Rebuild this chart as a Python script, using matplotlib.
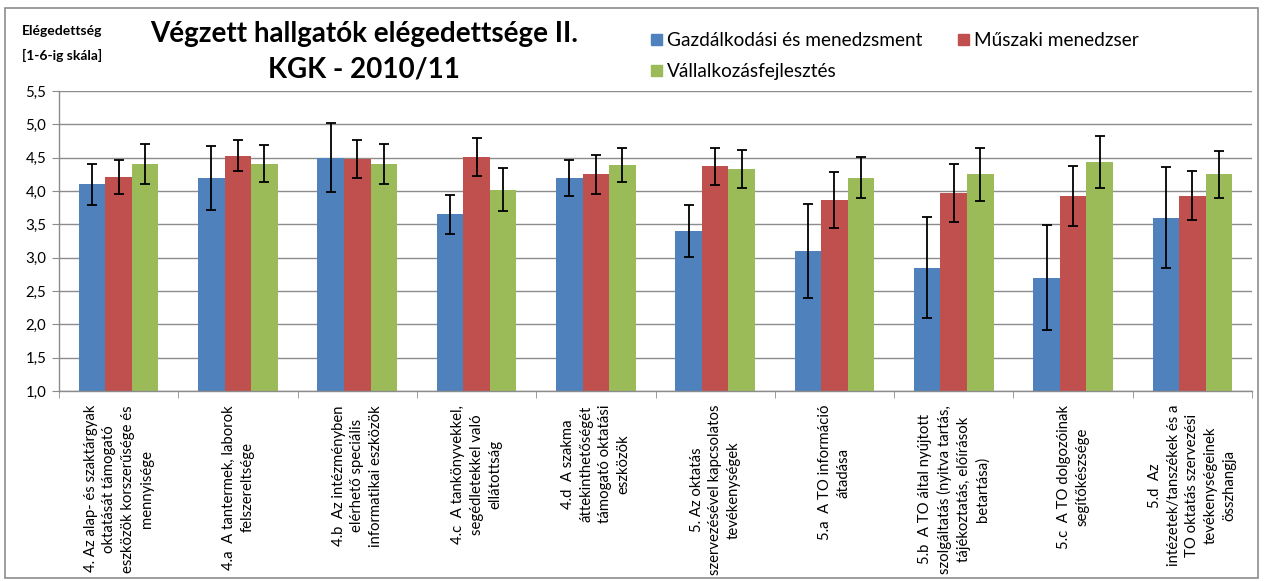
import matplotlib
matplotlib.use("Agg")
import matplotlib.pyplot as plt
import numpy as np
from matplotlib.patches import Rectangle
from matplotlib.ticker import FuncFormatter, FixedLocator

plt.rcParams['font.family'] = ['Lato', 'DejaVu Sans']

categories = [
    "4. Az alap- és szaktárgyak\noktatását támogató\neszközök korszerűsége és\nmennyisége",
    "4.a  A tantermek, laborok\nfelszereltsége",
    "4.b  Az intézményben\nelérhető speciális\ninformatikai eszközök",
    "4.c  A tankönyvekkel,\nsegédletekkel való\nellátottság",
    "4.d  A szakma\náttekinthetőségét\ntámogató oktatási\neszközök",
    "5. Az oktatás\nszervezésével kapcsolatos\ntevékenységek",
    "5.a  A TO információ\nátadása",
    "5.b  A TO által nyújtott\nszolgáltatás (nyitva tartás,\ntájékoztatás, előírások\nbetartása)",
    "5.c  A TO dolgozóinak\nsegítőkészsége",
    "5.d  Az\nintézetek/tanszékek és a\nTO oktatás szervezési\ntevékenységeinek\nösszhangja",
]
series_names = ["Gazdálkodási és menedzsment", "Műszaki menedzser", "Vállalkozásfejlesztés"]

gm_values = [4.10, 4.20, 4.50, 3.65, 4.20, 3.40, 3.10, 2.85, 2.70, 3.60]
gm_errors = [0.31, 0.48, 0.52, 0.29, 0.27, 0.39, 0.71, 0.76, 0.79, 0.76]
mm_values = [4.21, 4.53, 4.48, 4.51, 4.25, 4.37, 3.86, 3.97, 3.93, 3.93]
mm_errors = [0.25, 0.23, 0.28, 0.29, 0.29, 0.28, 0.42, 0.43, 0.45, 0.37]
vf_values = [4.41, 4.41, 4.41, 4.02, 4.39, 4.33, 4.20, 4.25, 4.43, 4.25]
vf_errors = [0.30, 0.28, 0.30, 0.32, 0.26, 0.28, 0.31, 0.40, 0.39, 0.35]

colors = ["#4F81BD", "#C0504D", "#9BBB59"]

W, H = 1264, 581
fig = plt.figure(figsize=(W / 100, H / 100), dpi=100)

# outer chart frame
fig.patches.append(Rectangle((5 / W, 1 - 578 / H), (1258 - 5) / W, (578 - 8) / H,
                             transform=fig.transFigure, fill=False,
                             edgecolor="#8c8c8c", linewidth=1.2))

ax = fig.add_axes([59 / W, 1 - 391 / H, (1252 - 59) / W, (391 - 91) / H])

x = np.arange(len(categories))
bw = 1 / 4.5
all_vals = [gm_values, mm_values, vf_values]
all_errs = [gm_errors, mm_errors, vf_errors]
for i, (vals, errs) in enumerate(zip(all_vals, all_errs)):
    ax.bar(x + (i - 1) * bw, vals, width=bw, color=colors[i], label=series_names[i],
           zorder=2, edgecolor="none")
    ax.errorbar(x + (i - 1) * bw, vals, yerr=errs, fmt="none", ecolor="black",
                elinewidth=1.3, capsize=3.5, capthick=1.3, zorder=3)

ax.set_xlim(-0.5, len(categories) - 0.5)
ax.set_ylim(1.0, 5.5)
ax.set_yticks(np.arange(1.0, 5.51, 0.5))
ax.yaxis.set_major_formatter(FuncFormatter(lambda v, p: f"{v:.1f}".replace(".", ",")))
ax.yaxis.grid(True, color="#8c8c8c", linewidth=1.0, zorder=0)
ax.set_axisbelow(True)

ax.set_xticks(x)
ax.set_xticklabels(categories, rotation=90, fontsize=10.7, linespacing=1.42,
                   multialignment="center")
ax.tick_params(axis="x", which="major", length=0, pad=10)
ax.xaxis.set_minor_locator(FixedLocator(np.arange(-0.5, len(categories), 1.0)))
ax.tick_params(axis="x", which="minor", length=5, color="#8c8c8c")
ax.tick_params(axis="y", length=5, color="#8c8c8c", labelsize=10.8, pad=4)

for s in ["top", "right"]:
    ax.spines[s].set_visible(False)
for s in ["left", "bottom"]:
    ax.spines[s].set_color("#8c8c8c")
    ax.spines[s].set_linewidth(1.0)

# titles
fig.text(364 / W, 1 - 34 / H, "Végzett hallgatók elégedettsége II.", ha="center",
         va="center", fontsize=20, fontweight="bold")
fig.text(364 / W, 1 - 70 / H, "KGK - 2010/11", ha="center", va="center",
         fontsize=20, fontweight="bold")
fig.text(62 / W, 1 - 31 / H, "Elégedettség", ha="center", va="center",
         fontsize=10, fontweight="bold")
fig.text(62 / W, 1 - 55 / H, "[1-6-ig skála]", ha="center", va="center",
         fontsize=10, fontweight="bold")

# legend (manual layout as in the original)
leg_items = [(651, 40), (958, 40), (651, 71)]
for (lx, ly), name, c in zip(leg_items, series_names, colors):
    fig.patches.append(Rectangle((lx / W, 1 - (ly + 5) / H), 11 / W, 11 / H,
                                 transform=fig.transFigure, color=c))
    fig.text((lx + 16) / W, 1 - ly / H, name, ha="left", va="center", fontsize=13.7)

fig.savefig("out.png", dpi=100)
